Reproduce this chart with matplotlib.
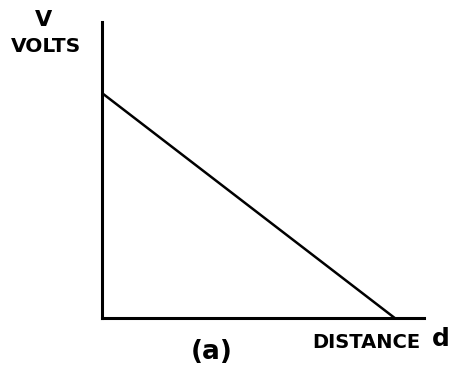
import matplotlib
matplotlib.use("Agg")
import matplotlib.pyplot as plt

# potential falls linearly with distance
distance = [0.0, 10.0]
volts = [7.6, 0.0]

W, H = 459, 371
fig = plt.figure(figsize=(W / 100, H / 100), dpi=100)
fig.patch.set_facecolor("white")

ax = fig.add_axes([102 / W, 1 - 318 / H, 322 / W, 296 / H])
ax.plot(distance, volts, color="black", linewidth=1.8, solid_capstyle="butt")
ax.set_xlim(0, 11)
ax.set_ylim(0, 10)

for side in ("top", "right"):
    ax.spines[side].set_visible(False)
for side in ("left", "bottom"):
    ax.spines[side].set_linewidth(2.2)
    ax.spines[side].set_color("black")
ax.set_xticks([])
ax.set_yticks([])


def px(x, y):
    return x / W, 1 - y / H


font = dict(family="DejaVu Sans", weight="bold", color="black")
fig.text(*px(44, 20), "V", fontsize=16, ha="center", va="center", **font)
fig.text(*px(46, 46), "VOLTS", fontsize=14.5, ha="center", va="center", **font)
fig.text(*px(366, 342), "DISTANCE", fontsize=14, ha="center", va="center", **font)
fig.text(*px(441, 339), "d", fontsize=18, ha="center", va="center", **font)
fig.text(*px(212, 352), "(a)", fontsize=19, ha="center", va="center", **font)

fig.savefig("out.png", dpi=100, facecolor="white")
